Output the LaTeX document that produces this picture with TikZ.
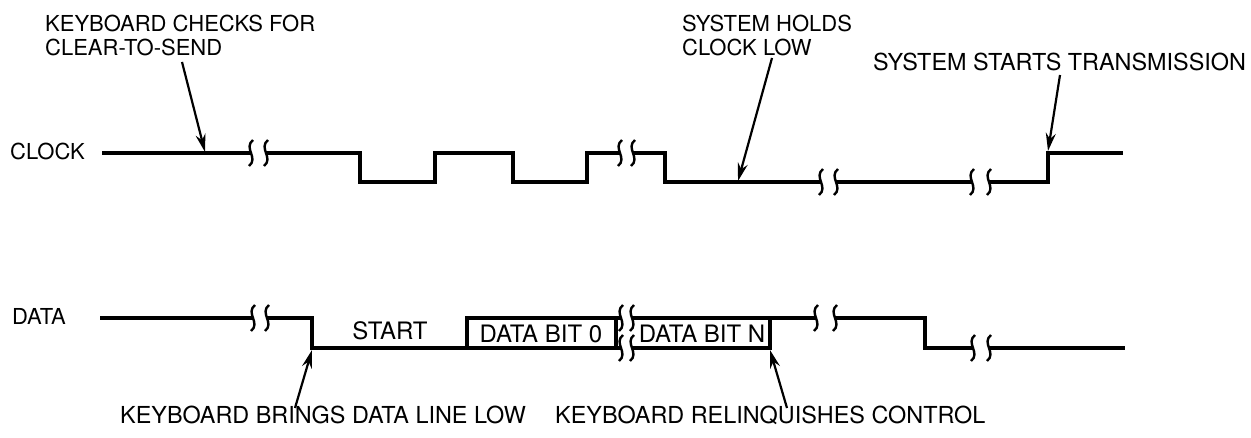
\documentclass[tikz,border=0pt]{standalone}
\usepackage{fontspec}
\setmainfont{TeX Gyre Heros}
\usetikzlibrary{arrows.meta}
\tikzset{
	wave/.style={line width=3.3pt, line join=miter},
	squig/.style={line width=2.4pt},
	callout/.style={-{Stealth[length=18pt,width=10pt]}, line width=2.2pt},
	lbl/.style={font=\fontsize{22}{24}\selectfont, inner sep=0pt, align=left},
	widelbl/.style={lbl, font=\fontsize{23.4}{25}\selectfont},
	bitlbl/.style={lbl, font=\fontsize{24}{26}\selectfont}
}
\newcommand{\squig}[2]{\draw[squig] ({#1+2},{#2-13}) .. controls ({#1-8},{#2-5}) and ({#1+8},{#2+5}) .. ({#1-2},{#2+13});}
\newcommand{\wavebreak}[3]{\squig{#1}{#3}\squig{#2}{#3}}

\begin{document}
\begin{tikzpicture}[x=1pt,y=-1pt]
	\useasboundingbox (0,0) rectangle (1251,438);
	% signal names
	\node[lbl, anchor=base west] (clk) at (10,160) {CLOCK};
	\node[lbl, anchor=base west] (dat) at (12,325) {DATA};
	% clock line
	\draw[wave] (102,153) -- (251,153);
	\draw[wave] (266,153) -- (360,153) -- (360,182) -- (435,182) -- (435,153) -- (513,153) -- (513,182) -- (587,182) -- (587,153) -- (620,153);
	\draw[wave] (633,153) -- (665,153) -- (665,182) -- (821,182);
	\draw[wave] (836,182) -- (972,182);
	\draw[wave] (989,182) -- (1048,182) -- (1048,153) -- (1123,153);
	\wavebreak{251}{266}{153}
	\wavebreak{620}{633}{153}
	\wavebreak{821}{836}{182}
	\wavebreak{972}{989}{182}
	% data line
	\draw[wave] (100,318) -- (253,318);
	\draw[wave] (267,318) -- (312,318) -- (312,348) -- (621,348);
	\draw[wave] (467,348) -- (467,318) -- (621,318);
	\draw[wave] (616,318) -- (616,348);
	\draw[wave] (632,318) -- (816,318);
	\draw[wave] (632,348) -- (770,348) -- (770,318);
	\draw[wave] (835,318) -- (925,318) -- (925,348) -- (973,348);
	\draw[wave] (989,348) -- (1125,348);
	\wavebreak{253}{267}{318}
	\wavebreak{621}{632}{318}
	\wavebreak{621}{632}{348}
	\wavebreak{816}{835}{318}
	\wavebreak{973}{989}{348}
	% bit labels
	\node[bitlbl] (start) at (390,331) {START};
	\node[bitlbl] (bit0) at (541,334) {DATA BIT 0};
	\node[bitlbl] (bitN) at (702,334) {DATA BIT N};
	% callouts
	\node[lbl, anchor=north west] (cts) at (45,15) {KEYBOARD CHECKS FOR\\CLEAR-TO-SEND};
	\node[lbl, anchor=north west] (hold) at (682,15) {SYSTEM HOLDS\\CLOCK LOW};
	\node[widelbl, anchor=west] (xmit) at (873,62) {SYSTEM STARTS TRANSMISSION};
	\node[widelbl, anchor=west] (low) at (120,415) {KEYBOARD BRINGS DATA LINE LOW};
	\node[widelbl, anchor=west] (relq) at (555,415) {KEYBOARD RELINQUISHES CONTROL};
	\coordinate (ctsTail) at (182,62);
	\coordinate (ctsTip) at (205,152);
	\coordinate (holdTail) at (772,58);
	\coordinate (holdTip) at (738,181);
	\coordinate (xmitTail) at (1060,75);
	\coordinate (xmitTip) at (1048,151);
	\coordinate (lowTail) at (295,408);
	\coordinate (lowTip) at (312,350);
	\coordinate (relqTail) at (787,408);
	\coordinate (relqTip) at (770,350);
	\draw[callout] (ctsTail) -- (ctsTip);
	\draw[callout] (holdTail) -- (holdTip);
	\draw[callout] (xmitTail) -- (xmitTip);
	\draw[callout] (lowTail) -- (lowTip);
	\draw[callout] (relqTail) -- (relqTip);
\end{tikzpicture}
\end{document}
